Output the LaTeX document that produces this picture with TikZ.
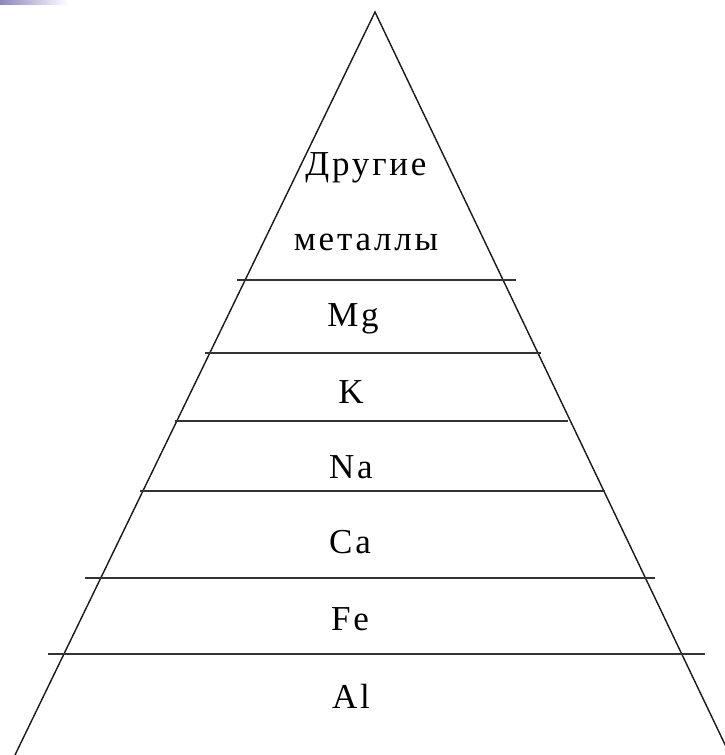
\documentclass[tikz,border=0pt]{standalone}
\usepackage{fontspec}
\setmainfont{Liberation Serif}[LetterSpace=8]
\begin{document}
\begin{tikzpicture}[x=1pt,y=-1pt,
  side/.style={line width=1.4pt,black!90},
  tier/.style={line width=2.2pt,black!80},
  lbl/.style={anchor=base,inner sep=0pt,font=\fontsize{35}{40}\selectfont,text=black}]
\useasboundingbox (0,0) rectangle (725,755);
\clip (0,0) rectangle (725,755);
\fill[white] (0,0) rectangle (725,755);
\shade[left color={rgb,255:red,140;green,134;blue,185}, right color=white] (0,0) rectangle (68,4);
% triangle
\coordinate (apex) at (375,12);
\coordinate (bl) at (15,755);
\coordinate (br) at (730,755);
\draw[side] (bl) -- (apex) -- (br);
% tier lines
\coordinate (l1a) at (237,280); \coordinate (l1b) at (516,280);
\coordinate (l2a) at (205,353); \coordinate (l2b) at (541,353);
\coordinate (l3a) at (175,421); \coordinate (l3b) at (568,421);
\coordinate (l4a) at (140,491); \coordinate (l4b) at (605,491);
\coordinate (l5a) at (85,578);  \coordinate (l5b) at (655,578);
\coordinate (l6a) at (48,654);  \coordinate (l6b) at (705,654);
\draw[tier] (l1a) -- (l1b);
\draw[tier] (l2a) -- (l2b);
\draw[tier] (l3a) -- (l3b);
\draw[tier] (l4a) -- (l4b);
\draw[tier] (l5a) -- (l5b);
\draw[tier] (l6a) -- (l6b);
% labels
\node[lbl] (t1) at (366,175) {Другие};
\node[lbl] (t2) at (366,250) {металлы};
\node[lbl] (mg) at (353,326) {Mg};
\node[lbl] (k)  at (351,403) {K};
\node[lbl] (na) at (351,478) {Na};
\node[lbl] (ca) at (350,553) {Ca};
\node[lbl] (fe) at (350,630) {Fe};
\node[lbl] (al) at (351,708) {Al};
\end{tikzpicture}
\end{document}
